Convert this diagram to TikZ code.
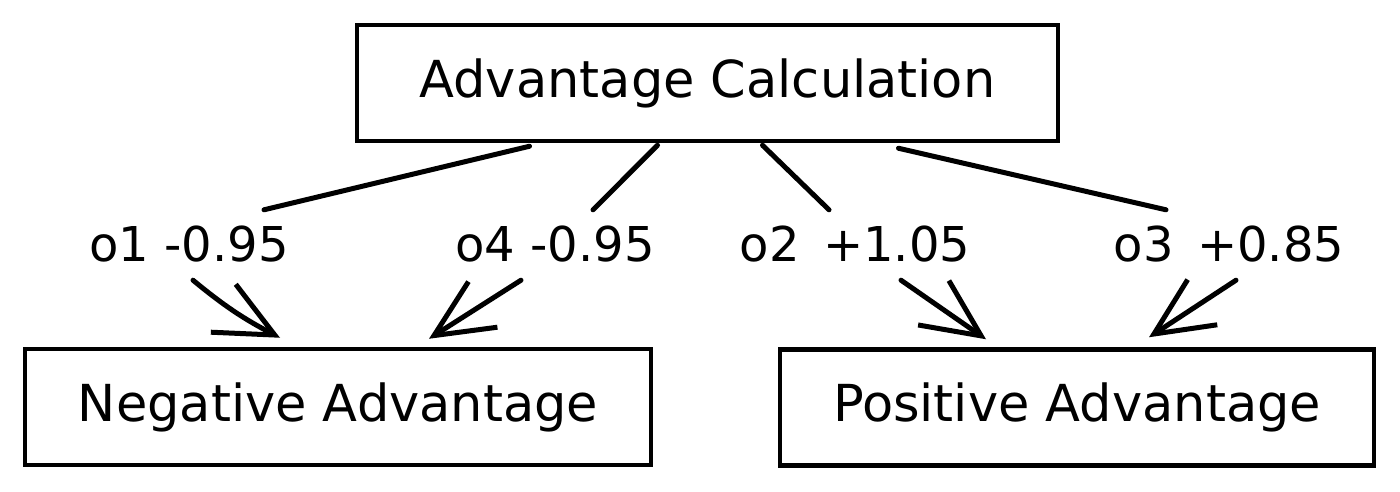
\documentclass[tikz,border=0pt]{standalone}
\usepackage{fontspec}
\setmainfont{DejaVu Sans}
\usetikzlibrary{arrows.meta}
\begin{document}
\begin{tikzpicture}[x=1pt,y=-1pt,
            box/.style={draw=black, line width=4.5pt, minimum height=116pt, inner sep=0pt, font=\fontsize{51}{60}\selectfont},
            score/.style={minimum height=68pt, inner sep=0pt, font=\fontsize{48}{56}\selectfont},
            link/.style={line width=5pt, line cap=round},
            pick/.style={line width=5pt, line cap=round, line join=round, -{Straight Barb[length=58pt,width=54pt]}}]
            \useasboundingbox (0,0) rectangle (1400,492);
            \node[box, minimum width=701pt] (calc) at (707.5,83) {Advantage Calculation};
            \node[box, minimum width=626pt] (neg) at (338,407) {Negative Advantage};
            \node[box, minimum width=594pt] (pos) at (1077,407.5) {Positive Advantage};
            \node[score] (o1) at (189,244) {o1 -0.95};
            \node[score] (o4) at (555,244) {o4 -0.95};
            \node[score] (o2) at (855,244) {o2\, +1.05};
            \node[score] (o3) at (1229,244) {o3\, +0.85};
            \draw[link] ([xshift=-178pt,yshift=-3pt]calc.south) -- ([xshift=75pt]o1.north);
            \draw[link] ([xshift=-50pt,yshift=-2pt]calc.south) -- ([xshift=38pt]o4.north);
            \draw[link] ([xshift=55pt,yshift=-2pt]calc.south) -- ([xshift=-26pt]o2.north);
            \draw[link] ([xshift=191pt,yshift=-5pt]calc.south) -- ([xshift=-63pt]o3.north);
            \draw[pick] ([xshift=4pt,yshift=-2pt]o1.south) to[bend right=6] ([xshift=-58pt,yshift=9pt]neg.north);
            \draw[pick] ([xshift=-34pt,yshift=-2pt]o4.south) -- ([xshift=91pt,yshift=8pt]neg.north);
            \draw[pick] ([xshift=46pt,yshift=-2pt]o2.south) -- ([xshift=-91pt,yshift=8pt]pos.north);
            \draw[pick] ([xshift=7pt,yshift=-2pt]o3.south) -- ([xshift=72pt,yshift=10pt]pos.north);
        \end{tikzpicture}
\end{document}
